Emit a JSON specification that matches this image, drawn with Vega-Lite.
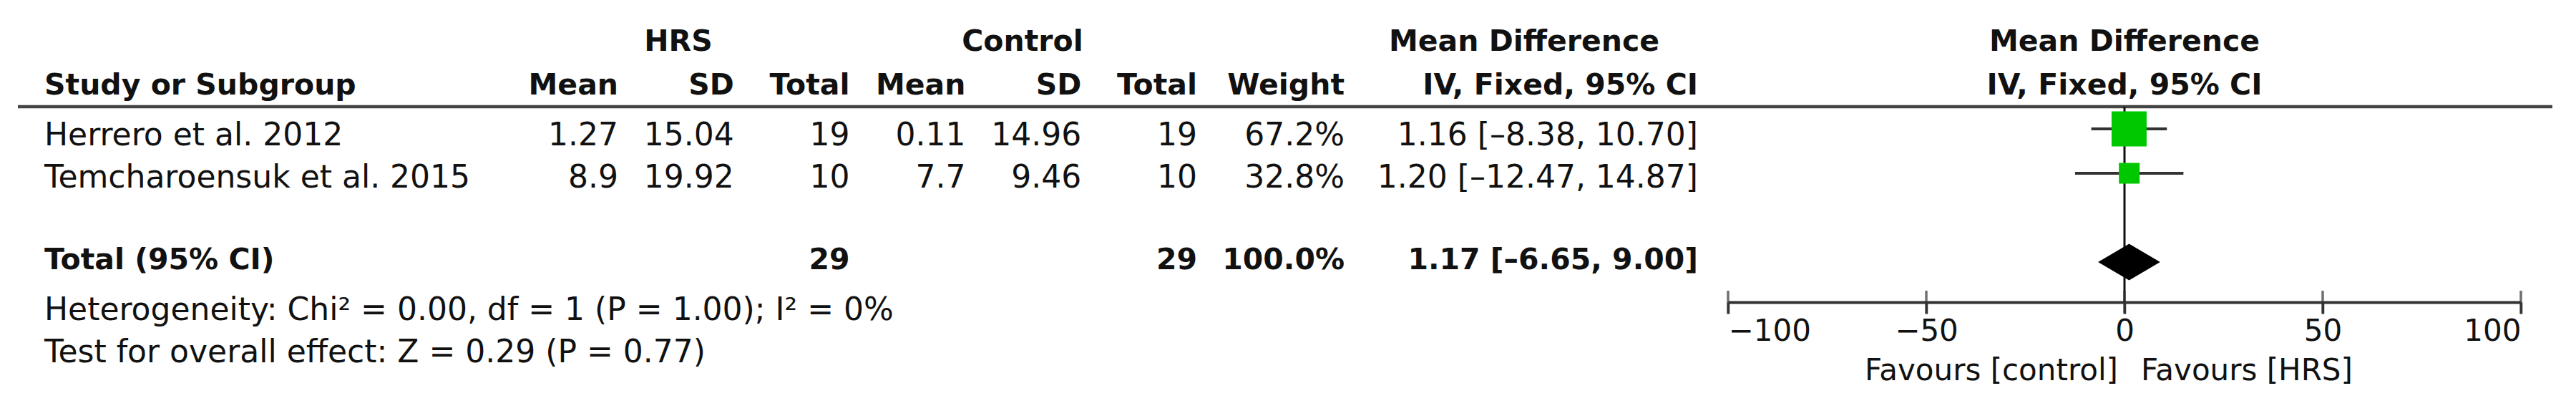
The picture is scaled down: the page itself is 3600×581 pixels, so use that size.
{
  "$schema": "https://vega.github.io/schema/vega-lite/v6.json",
  "width": 3542,
  "height": 422,
  "padding": {"left": 25, "right": 33, "top": 0, "bottom": 159},
  "autosize": {"type": "none"},
  "background": "white",
  "config": {"view": {"stroke": null}, "text": {"font": "DejaVu Sans", "color": "#111"}},
  "datasets": {
    "cells": [
      {"row": "Group", "col": "HRS", "text": "HRS"},
      {"row": "Group", "col": "Control", "text": "Control"},
      {"row": "Group", "col": "MD", "text": "Mean Difference"},
      {"row": "Group", "col": "plot", "text": "Mean Difference"},
      {"row": "Header", "col": "study", "text": "Study or Subgroup"},
      {"row": "Header", "col": "hrsMean", "text": "Mean"},
      {"row": "Header", "col": "hrsSD", "text": "SD"},
      {"row": "Header", "col": "hrsTotal", "text": "Total"},
      {"row": "Header", "col": "ctlMean", "text": "Mean"},
      {"row": "Header", "col": "ctlSD", "text": "SD"},
      {"row": "Header", "col": "ctlTotal", "text": "Total"},
      {"row": "Header", "col": "weight", "text": "Weight"},
      {"row": "Header", "col": "ci", "text": "IV, Fixed, 95% CI"},
      {"row": "Header", "col": "plot", "text": "IV, Fixed, 95% CI"},
      {"row": "Herrero et al. 2012", "col": "study", "text": "Herrero et al. 2012"},
      {"row": "Herrero et al. 2012", "col": "hrsMean", "text": "1.27"},
      {"row": "Herrero et al. 2012", "col": "hrsSD", "text": "15.04"},
      {"row": "Herrero et al. 2012", "col": "hrsTotal", "text": "19"},
      {"row": "Herrero et al. 2012", "col": "ctlMean", "text": "0.11"},
      {"row": "Herrero et al. 2012", "col": "ctlSD", "text": "14.96"},
      {"row": "Herrero et al. 2012", "col": "ctlTotal", "text": "19"},
      {"row": "Herrero et al. 2012", "col": "weight", "text": "67.2%"},
      {"row": "Herrero et al. 2012", "col": "ci", "text": "1.16 [–8.38, 10.70]"},
      {"row": "Temcharoensuk et al. 2015", "col": "study", "text": "Temcharoensuk et al. 2015"},
      {"row": "Temcharoensuk et al. 2015", "col": "hrsMean", "text": "8.9"},
      {"row": "Temcharoensuk et al. 2015", "col": "hrsSD", "text": "19.92"},
      {"row": "Temcharoensuk et al. 2015", "col": "hrsTotal", "text": "10"},
      {"row": "Temcharoensuk et al. 2015", "col": "ctlMean", "text": "7.7"},
      {"row": "Temcharoensuk et al. 2015", "col": "ctlSD", "text": "9.46"},
      {"row": "Temcharoensuk et al. 2015", "col": "ctlTotal", "text": "10"},
      {"row": "Temcharoensuk et al. 2015", "col": "weight", "text": "32.8%"},
      {"row": "Temcharoensuk et al. 2015", "col": "ci", "text": "1.20 [–12.47, 14.87]"},
      {"row": "Total (95% CI)", "col": "study", "text": "Total (95% CI)"},
      {"row": "Total (95% CI)", "col": "hrsTotal", "text": "29"},
      {"row": "Total (95% CI)", "col": "ctlTotal", "text": "29"},
      {"row": "Total (95% CI)", "col": "weight", "text": "100.0%"},
      {"row": "Total (95% CI)", "col": "ci", "text": "1.17 [–6.65, 9.00]"},
      {"row": "Heterogeneity", "col": "study", "text": "Heterogeneity: Chi² = 0.00, df = 1 (P = 1.00); I² = 0%"},
      {"row": "Overall effect", "col": "study", "text": "Test for overall effect: Z = 0.29 (P = 0.77)"}
    ],
    "studies": [
      {"study": "Herrero et al. 2012", "md": 1.16, "lo": -8.38, "hi": 10.70, "weight": 67.2},
      {"study": "Temcharoensuk et al. 2015", "md": 1.20, "lo": -12.47, "hi": 14.87, "weight": 32.8}
    ],
    "overall": [
      {"row": "Total (95% CI)", "md": 1.17, "lo": -6.65, "hi": 9.00}
    ],
    "ticks": [{"v": -100}, {"v": -50}, {"v": 0}, {"v": 50}, {"v": 100}],
    "favours": [
      {"side": "control", "label": "Favours [control]"},
      {"side": "HRS", "label": "Favours [HRS]"}
    ]
  },
  "resolve": {"scale": {"x": "independent"}, "axis": {"x": "independent"}},
  "layer": [
    {
      "data": {"values": [{}]},
      "mark": {"type": "rule", "color": "#444", "strokeWidth": 4.5},
      "encoding": {
        "x": {"value": 0},
        "x2": {"value": "width"},
        "y": {"datum": "Herrero et al. 2012", "type": "nominal", "bandPosition": 0, "axis": null,
              "scale": {"type": "band", "domain": ["Group", "Header", "Herrero et al. 2012", "Temcharoensuk et al. 2015", "gap", "Total (95% CI)", "Heterogeneity", "Overall effect"], "range": [25, 521], "paddingInner": 0, "paddingOuter": 0}}
      }
    },
    {
      "data": {"values": [{}]},
      "mark": {"type": "rule", "color": "#111", "strokeWidth": 3},
      "encoding": {
        "x": {"datum": 0, "type": "quantitative", "axis": null, "scale": {"domain": [-100, 100], "range": [2390, 3498], "nice": false, "zero": false}},
        "y": {"datum": "Herrero et al. 2012", "type": "nominal", "bandPosition": 0, "axis": null},
        "y2": {"value": "height"}
      }
    },
    {
      "data": {"name": "studies"},
      "mark": {"type": "rule", "color": "#333", "strokeWidth": 4},
      "encoding": {
        "x": {"field": "lo", "type": "quantitative", "axis": null, "scale": {"domain": [-100, 100], "range": [2390, 3498], "nice": false, "zero": false}},
        "x2": {"field": "hi"},
        "y": {"field": "study", "type": "nominal", "axis": null}
      }
    },
    {
      "data": {"name": "studies"},
      "mark": {"type": "point", "shape": "square", "filled": true, "color": "#00c800", "opacity": 1},
      "encoding": {
        "x": {"field": "md", "type": "quantitative", "axis": null, "scale": {"domain": [-100, 100], "range": [2390, 3498], "nice": false, "zero": false}},
        "y": {"field": "study", "type": "nominal", "axis": null},
        "size": {"field": "weight", "type": "quantitative", "legend": null, "scale": {"domain": [32.8, 67.2], "range": [841, 2401], "zero": false}}
      }
    },
    {
      "data": {"name": "overall"},
      "mark": {"type": "point", "shape": "M-1,0L0,-0.588L1,0L0,0.588Z", "filled": true, "color": "#000", "opacity": 1, "size": 7517},
      "encoding": {
        "x": {"field": "md", "type": "quantitative", "axis": null, "scale": {"domain": [-100, 100], "range": [2390, 3498], "nice": false, "zero": false}},
        "y": {"field": "row", "type": "nominal", "axis": null}
      }
    },
    {
      "data": {"name": "ticks"},
      "mark": {"type": "tick", "orient": "vertical", "size": 32, "thickness": 3.5, "color": "#333"},
      "encoding": {
        "x": {"field": "v", "type": "quantitative",
              "scale": {"domain": [-100, 100], "range": [2390, 3498], "nice": false, "zero": false},
              "axis": {"orient": "bottom", "values": [-100, -50, 0, 50, 100], "title": null, "grid": false,
                       "domain": true, "domainColor": "#333", "domainWidth": 4,
                       "ticks": true, "tickSize": 16, "tickWidth": 3.5, "tickColor": "#333",
                       "labelFont": "DejaVu Sans", "labelFontSize": 42, "labelColor": "#111", "labelPadding": 4,
                       "labelFlush": true, "labelOverlap": false}},
        "y": {"value": "height"}
      }
    },
    {
      "data": {"name": "favours"},
      "mark": {"type": "text", "fontSize": 42, "dy": 96,
               "align": {"expr": "datum.side === 'control' ? 'right' : 'left'"},
               "dx": {"expr": "datum.side === 'control' ? -9 : 23"}},
      "encoding": {
        "x": {"datum": 0, "type": "quantitative", "axis": null, "scale": {"domain": [-100, 100], "range": [2390, 3498], "nice": false, "zero": false}},
        "y": {"value": "height"},
        "text": {"field": "label"}
      }
    },
    {
      "data": {"name": "cells"},
      "transform": [{"filter": {"field": "col", "equal": "plot"}}],
      "mark": {"type": "text", "align": "center", "fontWeight": "bold", "fontSize": 41,
               "dy": {"expr": "datum.row === 'Group' ? 3 : 2"}},
      "encoding": {
        "x": {"datum": 0, "type": "quantitative", "axis": null, "scale": {"domain": [-100, 100], "range": [2390, 3498], "nice": false, "zero": false}},
        "y": {"field": "row", "type": "nominal", "axis": null},
        "text": {"field": "text"}
      }
    },
    {
      "data": {"name": "cells"},
      "transform": [{"filter": {"field": "col", "oneOf": ["HRS", "Control"]}}],
      "mark": {"type": "text", "align": "center", "fontWeight": "bold", "fontSize": 41, "dy": 3},
      "encoding": {
        "x": {"field": "col", "type": "nominal", "axis": null, "scale": {"type": "point", "domain": ["HRS", "Control"], "range": [923, 1404], "padding": 0}},
        "y": {"field": "row", "type": "nominal", "axis": null},
        "text": {"field": "text"}
      }
    },
    {
      "data": {"name": "cells"},
      "transform": [{"filter": {"field": "col", "equal": "MD"}}],
      "mark": {"type": "text", "align": "center", "fontWeight": "bold", "fontSize": 41, "dy": 3},
      "encoding": {
        "x": {"field": "col", "type": "nominal", "axis": null, "scale": {"type": "point", "domain": ["MD"], "range": [2105, 2105], "padding": 0}},
        "y": {"field": "row", "type": "nominal", "axis": null},
        "text": {"field": "text"}
      }
    },
    {
      "data": {"name": "cells"},
      "transform": [{"filter": {"field": "col", "equal": "study"}}],
      "mark": {"type": "text", "align": "left",
               "fontWeight": {"expr": "datum.row === 'Header' || datum.row === 'Total (95% CI)' ? 'bold' : 'normal'"},
               "fontSize": {"expr": "datum.row === 'Header' || datum.row === 'Total (95% CI)' ? 41 : 44"},
               "dy": {"expr": "datum.row === 'Header' ? 2 : datum.row === 'Herrero et al. 2012' ? 10 : datum.row === 'Temcharoensuk et al. 2015' ? 7 : datum.row === 'Total (95% CI)' ? -2 : datum.row === 'Heterogeneity' ? 6 : 3"}},
      "encoding": {
        "x": {"field": "col", "type": "nominal", "axis": null, "scale": {"type": "point", "domain": ["study"], "range": [37, 37], "padding": 0}},
        "y": {"field": "row", "type": "nominal", "axis": null},
        "text": {"field": "text"}
      }
    },
    {
      "data": {"name": "cells"},
      "transform": [{"filter": {"field": "col", "oneOf": ["hrsMean", "hrsSD", "hrsTotal", "ctlMean", "ctlSD", "ctlTotal"]}}],
      "mark": {"type": "text", "align": "right",
               "fontWeight": {"expr": "datum.row === 'Header' || datum.row === 'Total (95% CI)' ? 'bold' : 'normal'"},
               "fontSize": {"expr": "datum.row === 'Header' || datum.row === 'Total (95% CI)' ? 41 : 44"},
               "dy": {"expr": "datum.row === 'Header' ? 2 : datum.row === 'Herrero et al. 2012' ? 10 : datum.row === 'Temcharoensuk et al. 2015' ? 7 : datum.row === 'Total (95% CI)' ? -2 : 3"}},
      "encoding": {
        "x": {"field": "col", "type": "nominal", "axis": null, "scale": {"type": "point", "domain": ["hrsMean", "hrsSD", "hrsTotal", "ctlMean", "ctlSD", "ctlTotal"], "range": [839, 1648], "padding": 0}},
        "y": {"field": "row", "type": "nominal", "axis": null},
        "text": {"field": "text"}
      }
    },
    {
      "data": {"name": "cells"},
      "transform": [{"filter": {"field": "col", "oneOf": ["weight", "ci"]}}],
      "mark": {"type": "text", "align": "right",
               "fontWeight": {"expr": "datum.row === 'Header' || datum.row === 'Total (95% CI)' ? 'bold' : 'normal'"},
               "fontSize": {"expr": "datum.row === 'Header' || datum.row === 'Total (95% CI)' ? 41 : 44"},
               "dy": {"expr": "datum.row === 'Header' ? 2 : datum.row === 'Herrero et al. 2012' ? 10 : datum.row === 'Temcharoensuk et al. 2015' ? 7 : datum.row === 'Total (95% CI)' ? -2 : 3"}},
      "encoding": {
        "x": {"field": "col", "type": "nominal", "axis": null, "scale": {"type": "point", "domain": ["weight", "ci"], "range": [1854, 2348], "padding": 0}},
        "y": {"field": "row", "type": "nominal", "axis": null},
        "text": {"field": "text"}
      }
    }
  ]
}
